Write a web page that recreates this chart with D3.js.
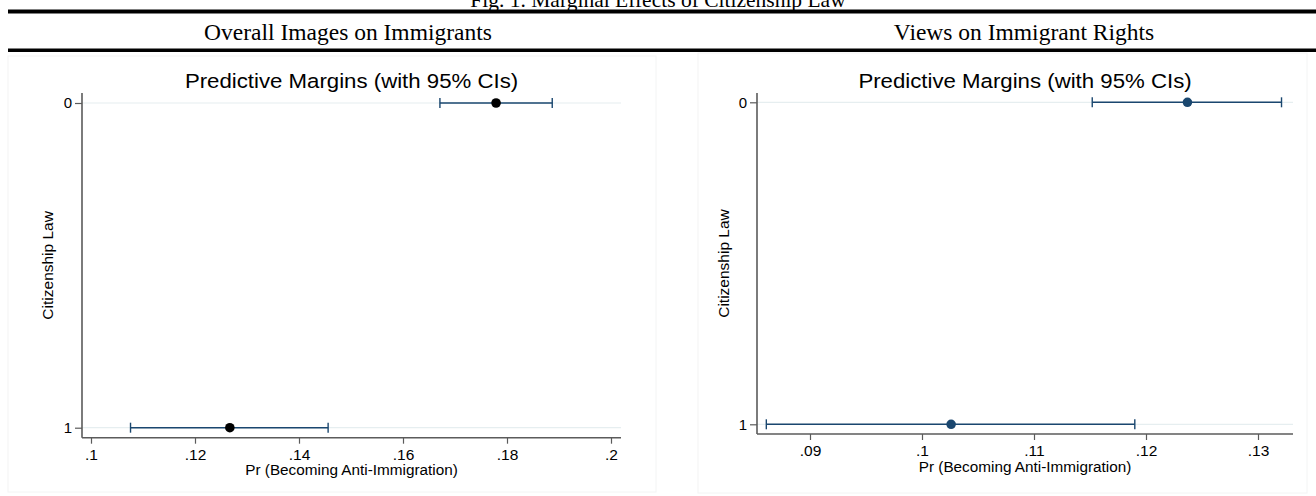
<!DOCTYPE html>
<html><head><meta charset="utf-8">
<script src="https://cdn.jsdelivr.net/npm/d3@7/dist/d3.min.js"></script>
<style>html,body{margin:0;padding:0;background:#fff;}svg{display:block;}</style>
</head><body>
<svg id="c" width="1316" height="496"></svg>
<script>
const figTitle = "Fig. 1. Marginal Effects of Citizenship Law";
const panelTitles = ["Overall Images on Immigrants", "Views on Immigrant Rights"];
const plotTitle = "Predictive Margins (with 95% CIs)";
const yTitle = "Citizenship Law";
const xTitle = "Pr (Becoming Anti-Immigration)";
const categories = ["0", "1"];
const leftMargin = [0.1779, 0.1267];
const leftLower  = [0.1671, 0.1076];
const leftUpper  = [0.1887, 0.1456];
const rightMargin = [0.1237, 0.1026];
const rightLower  = [0.1152, 0.0861];
const rightUpper  = [0.1321, 0.1190];
const leftTicks = [0.10, 0.12, 0.14, 0.16, 0.18, 0.20];
const rightTicks = [0.09, 0.10, 0.11, 0.12, 0.13];

const svg = d3.select("#c");
const W = 1316;
const navy = "#1a476f";
const axisCol = "#5b5b5b";
const gridCol = "#e6eef0";
const sans = "'Liberation Sans', Arial, Helvetica, sans-serif";
const serif = "'Liberation Serif', 'Times New Roman', serif";

// header
svg.append("text").attr("x", W/2).attr("y", 7).attr("text-anchor","middle")
  .attr("font-family", serif).attr("font-size", 21.5).text(figTitle);
svg.append("rect").attr("x", 8).attr("y", 9.5).attr("width", W-8).attr("height", 4).attr("fill","#000");
svg.append("rect").attr("x", 8).attr("y", 48.5).attr("width", W-8).attr("height", 3.5).attr("fill","#000");

const panels = [
  {title: panelTitles[0], cx: 348, mid: leftMargin, lo: leftLower, hi: leftUpper, ticks: leftTicks,
   dom:[0.10,0.20], rng:[91,611], axX:[82,621], rows:[103,427.7], axY:437.7, top:93, dot:"#000",
   yLabX:48, tickLabY:460, xTitleY:475, box:[8,56,648,436]},
  {title: panelTitles[1], cx: 1024, mid: rightMargin, lo: rightLower, hi: rightUpper, ticks: rightTicks,
   dom:[0.09,0.13], rng:[810,1258], axX:[757,1293], rows:[102.3,424.3], axY:434, top:93, dot:navy,
   yLabX:724, tickLabY:456, xTitleY:472, box:[698,53,609,440]}
];

const fmt = v => d3.format(".2f")(v).replace(/0+$/,"").replace(/^0/,"");

panels.forEach(p => {
  svg.append("text").attr("x", p.cx).attr("y", 40).attr("text-anchor","middle")
    .attr("font-family", serif).attr("font-size", 23.5).text(p.title);
  svg.append("rect").attr("x", p.box[0]).attr("y", p.box[1]).attr("width", p.box[2]).attr("height", p.box[3])
    .attr("fill","none").attr("stroke","#f3f4f4").attr("stroke-width",1);

  const x = d3.scaleLinear().domain(p.dom).range(p.rng);
  const y = d3.scalePoint().domain(categories).range(p.rows);
  const g = svg.append("g");

  // plot title
  const pcx = (p.axX[0]+p.axX[1])/2;
  g.append("text").attr("transform", `translate(${pcx},88) scale(1.14,1)`).attr("text-anchor","middle")
    .attr("font-family", sans).attr("font-size", 19.5).text(plotTitle);

  // gridlines
  g.selectAll(".grid").data(categories).join("line")
    .attr("x1", p.axX[0]).attr("x2", p.axX[1]).attr("y1", d=>y(d)).attr("y2", d=>y(d))
    .attr("stroke", gridCol).attr("stroke-width", 1.2);

  // y axis
  const ya = d3.axisLeft(y).tickSize(7).tickPadding(3);
  const yg = g.append("g").attr("transform", `translate(${p.axX[0]},0)`).call(ya);
  yg.select(".domain").remove();
  yg.selectAll("line").attr("stroke", axisCol).attr("stroke-width",1.2);
  yg.selectAll("text").attr("font-family", sans).attr("font-size", 15).attr("fill","#000");
  g.append("line").attr("x1",p.axX[0]).attr("x2",p.axX[0]).attr("y1",p.top).attr("y2",p.axY)
    .attr("stroke",axisCol).attr("stroke-width",1.6);

  // x axis
  const xa = d3.axisBottom(x).tickValues(p.ticks).tickFormat(fmt).tickSize(6).tickPadding(4);
  const xg = g.append("g").attr("transform", `translate(0,${p.axY})`).call(xa);
  xg.select(".domain").remove();
  xg.selectAll("line").attr("stroke", axisCol).attr("stroke-width",1.2);
  xg.selectAll("text").attr("font-family", sans).attr("font-size", 15.5).attr("fill","#000")
    .attr("dy", null).attr("y", p.tickLabY - p.axY);
  g.append("line").attr("x1",p.axX[0]).attr("x2",p.axX[1]).attr("y1",p.axY).attr("y2",p.axY)
    .attr("stroke",axisCol).attr("stroke-width",1.6);

  // axis titles
  g.append("text").attr("x", pcx).attr("y", p.xTitleY).attr("text-anchor","middle")
    .attr("font-family", sans).attr("font-size", 15.3).text(xTitle);
  g.append("text").attr("transform", `translate(${p.yLabX},${(p.top+p.axY)/2}) rotate(-90)`)
    .attr("text-anchor","middle").attr("dy","0.35em")
    .attr("font-family", sans).attr("font-size", 15.5).text(yTitle);

  // CIs
  const rows = categories.map((c,i)=>({c, m:p.mid[i], lo:p.lo[i], hi:p.hi[i]}));
  g.selectAll(".ci").data(rows).join("line")
    .attr("x1", d=>x(d.lo)).attr("x2", d=>x(d.hi)).attr("y1", d=>y(d.c)).attr("y2", d=>y(d.c))
    .attr("stroke", navy).attr("stroke-width", 1.6);
  ["lo","hi"].forEach(k => {
    g.selectAll(".cap"+k).data(rows).join("line")
      .attr("x1", d=>x(d[k])).attr("x2", d=>x(d[k])).attr("y1", d=>y(d.c)-5).attr("y2", d=>y(d.c)+5)
      .attr("stroke", navy).attr("stroke-width", 1.4);
  });
  g.selectAll(".pt").data(rows).join("circle")
    .attr("cx", d=>x(d.m)).attr("cy", d=>y(d.c)).attr("r", 4.8).attr("fill", p.dot);
});
</script>
</body></html>
